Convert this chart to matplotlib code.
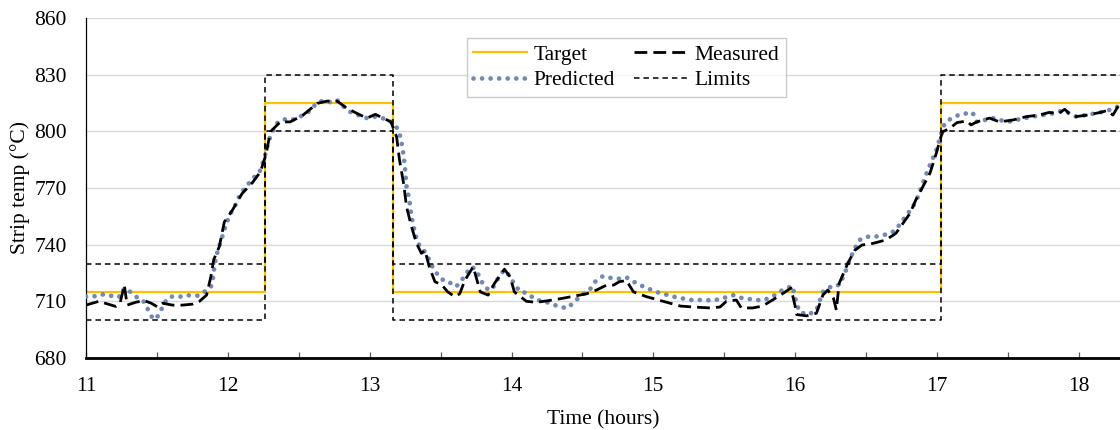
import matplotlib
matplotlib.use("Agg")
import matplotlib.pyplot as plt
from matplotlib.ticker import MultipleLocator

# ---------------- data ----------------
step_times = [11.0, 12.26, 13.165, 17.03, 18.29]
target_levels = [715, 815, 715, 815, 815]
limit_band = 15
upper_limits = [v + limit_band for v in target_levels]
lower_limits = [v - limit_band for v in target_levels]

measured_t = [11.00, 11.09, 11.21, 11.24, 11.27, 11.29, 11.35, 11.41, 11.46, 11.505,
              11.54, 11.61, 11.68, 11.75, 11.80, 11.85, 11.88, 11.90, 11.94, 11.975,
              12.03, 12.10, 12.175, 12.23, 12.27, 12.30, 12.37, 12.44, 12.53, 12.63,
              12.70, 12.77, 12.84, 12.91, 12.98, 13.04, 13.095, 13.15, 13.19, 13.21,
              13.24, 13.26, 13.295, 13.33, 13.365, 13.39, 13.42, 13.46, 13.51, 13.55,
              13.60, 13.635, 13.67, 13.73, 13.75, 13.78, 13.835, 13.88, 13.95, 13.99,
              14.02, 14.105, 14.175, 14.245, 14.36, 14.48, 14.53, 14.60, 14.67, 14.72,
              14.76, 14.81, 14.86, 14.95, 15.07, 15.19, 15.28, 15.40, 15.47, 15.515,
              15.585, 15.62, 15.70, 15.77, 15.84, 15.91, 15.97, 16.00, 16.01, 16.08,
              16.15, 16.195, 16.23, 16.27, 16.29, 16.31, 16.37, 16.42, 16.47, 16.55,
              16.64, 16.71, 16.76, 16.81, 16.85, 16.90, 16.95, 16.995, 17.02, 17.04,
              17.09, 17.14, 17.21, 17.24, 17.28, 17.37, 17.44, 17.535, 17.63, 17.72,
              17.79, 17.86, 17.90, 17.93, 17.98, 18.05, 18.15, 18.20, 18.24, 18.29]
measured_v = [708, 710, 707.3, 709, 718.6, 708, 709.5, 710.4, 709, 707,
              709, 708, 708, 708.5, 710, 713.3, 723, 732, 739, 752,
              758, 767, 773, 778.6, 788, 799.8, 805, 805, 808.6, 814.8,
              816, 816, 812.2, 809.5, 807, 809, 807, 805, 797, 785,
              772, 760, 749.5, 740.7, 735.4, 737, 728.3, 720.4, 718.6, 715,
              712.5, 714, 721, 728.3, 723, 715, 713.3, 719.5, 727, 723,
              715, 710, 709.5, 710.2, 711.6, 713.3, 714, 716, 718.6, 718.6,
              720.4, 721, 715, 712.5, 710, 707.5, 707, 706.5, 707, 710,
              710.7, 706.5, 706.5, 707.5, 710.7, 714, 717, 707.3, 703, 702.3,
              703.7, 713.3, 716, 711.6, 705.4, 719.5, 730, 737, 739.8, 740.7,
              742.5, 746, 751.3, 756.6, 763.6, 770.7, 777.8, 788.4, 795.4, 799.8,
              801.6, 804.6, 805.5, 803.4, 805, 807, 805, 806, 807.8, 808.6,
              810, 809.5, 811.7, 809.5, 807.8, 808.5, 810, 811, 808.6, 815]

predicted_t = [11.00, 11.05, 11.105, 11.165, 11.21, 11.245, 11.27, 11.305, 11.35, 11.40,
               11.42, 11.445, 11.47, 11.49, 11.52, 11.55, 11.59, 11.62, 11.67, 11.705,
               11.75, 11.79, 11.82, 11.86, 11.88, 11.90, 11.905, 11.93, 11.95, 11.99,
               12.02, 12.06, 12.09, 12.13, 12.175, 12.22, 12.245, 12.27, 12.285, 12.31,
               12.345, 12.39, 12.45, 12.51, 12.57, 12.60, 12.65, 12.71, 12.77, 12.81,
               12.86, 12.92, 12.98, 13.025, 13.07, 13.14, 13.18, 13.20, 13.22, 13.24,
               13.25, 13.26, 13.28, 13.295, 13.32, 13.34, 13.38, 13.41, 13.435, 13.48,
               13.53, 13.58, 13.61, 13.65, 13.68, 13.72, 13.75, 13.79, 13.82, 13.86,
               13.89, 13.93, 13.95, 13.98, 14.01, 14.06, 14.105, 14.175, 14.235, 14.28,
               14.34, 14.39, 14.45, 14.48, 14.55, 14.59, 14.645, 14.69, 14.76, 14.81,
               14.86, 14.93, 15.02, 15.14, 15.26, 15.36, 15.42, 15.49, 15.56, 15.63,
               15.70, 15.77, 15.84, 15.91, 15.98, 16.01, 16.03, 16.09, 16.15, 16.195,
               16.27, 16.31, 16.35, 16.385, 16.42, 16.455, 16.50, 16.56, 16.62, 16.67,
               16.71, 16.75, 16.795, 16.83, 16.865, 16.90, 16.935, 16.97, 16.995, 17.02,
               17.05, 17.08, 17.11, 17.16, 17.21, 17.25, 17.28, 17.335, 17.395, 17.44,
               17.50, 17.58, 17.675, 17.745, 17.815, 17.885, 17.94, 17.98, 18.05, 18.15,
               18.22, 18.265, 18.29]
predicted_v = [712.5, 712.5, 713.7, 713.3, 712, 712.8, 717, 715.5, 712.5, 710.7,
               708, 704.5, 701, 700.5, 703.6, 709, 712.5, 712.5, 712.5, 713.3,
               713, 713, 714.3, 716.4, 717.4, 724, 729.2, 737.2, 741.6, 751.3,
               756.6, 761.9, 767.2, 770.7, 775.1, 777.8, 783, 789.2, 794.5, 799,
               804.2, 806.4, 806, 807.8, 810.4, 813, 816, 815.3, 816.6, 813.5,
               810.4, 808.6, 807, 807.8, 807.5, 805.6, 803.4, 800.7, 796.3, 786.6,
               779.5, 770.7, 763.6, 754.8, 746, 740.7, 737.2, 733.6, 729.2, 724,
               720.4, 719.5, 717.8, 721.3, 724.8, 728.3, 726.6, 720.4, 716.9, 716,
               720.4, 724.8, 726.6, 724, 720.4, 715, 714.5, 710.7, 710, 708.6,
               707.2, 706.3, 710, 712.5, 716, 720.4, 723.4, 722.5, 722, 722.7,
               720.4, 717.8, 715, 712.5, 710.7, 710.7, 710.4, 711.6, 713.3, 711.6,
               711, 710.4, 712.5, 716, 718.1, 709, 704.5, 702.8, 705.4, 715,
               718.6, 718.6, 724.8, 732, 738, 742.5, 744.2, 744.2, 745, 746,
               747.8, 752.2, 756.6, 760, 765.4, 772.5, 779.5, 785.7, 790, 796.3,
               803.4, 806, 807, 809, 809.5, 810, 805, 806, 807, 806,
               805, 806.4, 807.8, 808.6, 809.5, 811, 809.5, 807.8, 808.6, 810,
               811.4, 812.5, 815]

x_ticks = [11, 12, 13, 14, 15, 16, 17, 18]
x_tick_labels = ["11", "12", "13", "14", "15", "16", "17", "18"]
y_ticks = [680, 710, 740, 770, 800, 830, 860]

# ---------------- plot ----------------
plt.rcParams['font.family'] = ['Liberation Serif', 'DejaVu Serif']
FS = 15.5
plt.rcParams['font.size'] = FS

fig = plt.figure(figsize=(11.2, 4.3), dpi=100)
ax = fig.add_axes([86 / 1120, 1 - 358 / 430, 1 - 86 / 1120, 340 / 430])

ax.step(step_times, target_levels, where='post', color='#FFC000', lw=1.6,
        label='Target', zorder=2)
ax.plot(predicted_t, predicted_v, color='#7389B4', lw=3.4,
        linestyle=(0, (0.01, 1.8)), dash_capstyle='round', label='Predicted', zorder=3)
ax.plot(measured_t, measured_v, color='black', lw=2.0,
        linestyle=(0, (4.6, 2.2)), label='Measured', zorder=4)
ax.step(step_times, upper_limits, where='post', color='black', lw=1.1,
        linestyle=(0, (3.6, 2.6)), label='Limits', zorder=3)
ax.step(step_times, lower_limits, where='post', color='black', lw=1.1,
        linestyle=(0, (3.6, 2.6)), zorder=3)

ax.set_xlim(11, 18.29)
ax.set_ylim(680, 860)
ax.set_yticks(y_ticks)
ax.set_xticks(x_ticks)
ax.set_xticklabels(x_tick_labels)
ax.xaxis.set_minor_locator(MultipleLocator(0.5))
ax.grid(axis='y', color='#D9D9D9', lw=1.0, zorder=0)
ax.set_axisbelow(True)

for s in ['top', 'right']:
    ax.spines[s].set_visible(False)
ax.spines['left'].set_color('black')
ax.spines['left'].set_linewidth(0.9)
ax.spines['bottom'].set_color('black')
ax.spines['bottom'].set_linewidth(2.0)

ax.tick_params(axis='y', length=0, pad=14, labelsize=FS)
ax.tick_params(axis='x', which='both', direction='in', length=4, width=0.9,
               color='#595959', pad=14, labelsize=FS)

ax.set_xlabel('Time (hours)', fontsize=FS, labelpad=10)
ax.set_ylabel('Strip temp (°C)', fontsize=FS, labelpad=3)

handles, labels = ax.get_legend_handles_labels()
order = [labels.index(n) for n in ['Target', 'Predicted', 'Measured', 'Limits']]
leg = ax.legend([handles[i] for i in order], [labels[i] for i in order],
                ncol=2, loc='upper center', bbox_to_anchor=(0.5225, 0.972),
                frameon=True, fancybox=False, edgecolor='#BFBFBF', fontsize=FS,
                handlelength=2.5, columnspacing=0.9, handletextpad=0.3,
                borderpad=0.3, labelspacing=0.25)
leg.get_frame().set_linewidth(1.0)

fig.savefig('out.png', dpi=100)
